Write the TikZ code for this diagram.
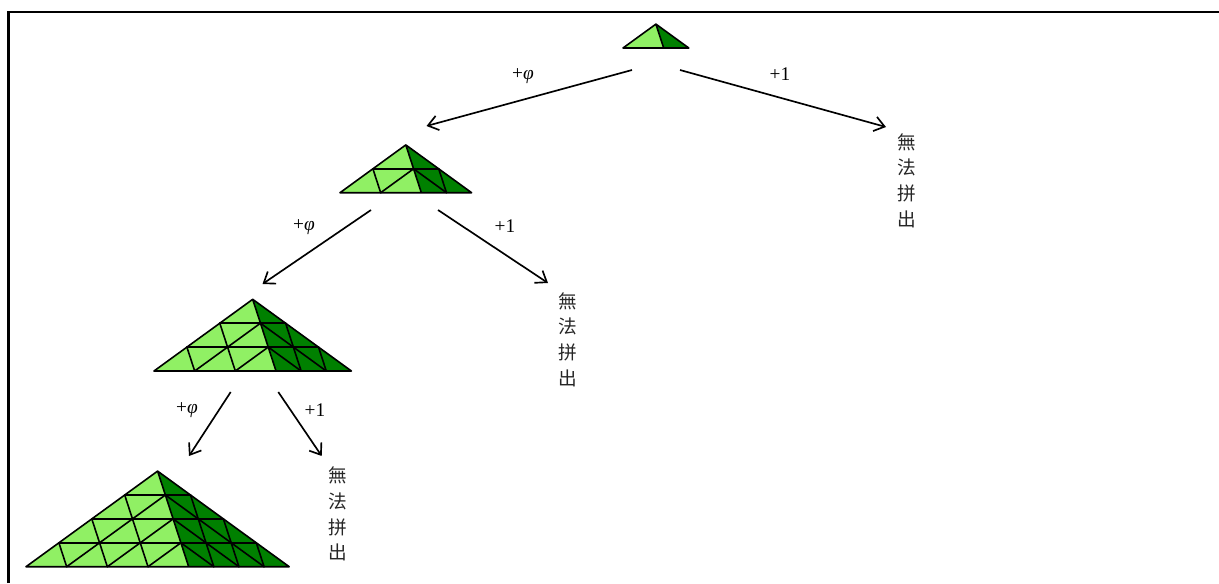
\documentclass[tikz,border=0pt]{standalone}
\usepackage{fontspec}
\setmainfont{Liberation Serif}
\newfontfamily\cjk{Noto Sans CJK TC}
\usetikzlibrary{arrows.meta}
\definecolor{lg}{RGB}{144,240,100}
\definecolor{dg}{RGB}{0,128,0}
\def\TW{65.8}\def\TH{23.9}\def\TD{40.67}
\tikzset{
  grid/.style={draw=black,line width=1.2pt,line join=round,line cap=round},
  arr/.style={draw=black,line width=1.25pt,-{Straight Barb[length=7.5pt,width=11pt]}},
  lbl/.style={font=\fontsize{14.5}{17}\selectfont,inner sep=0pt},
  vtext/.style={font=\cjk\fontsize{14}{19.3}\selectfont,align=center,inner sep=0pt,text=black!85},
  frame/.style={draw=black,line width=1.6pt}
}
\newcommand{\gtri}[4]{% name, n, bx, by
  \begin{scope}[shift={(#3,#4)}]
  \coordinate (#1B) at (0,0);
  \coordinate (#1A) at ({#2*\TW/2},{-#2*\TH});
  \coordinate (#1D) at ({#2*\TD},0);
  \coordinate (#1C) at ({#2*\TW},0);
  \fill[lg] (#1B)--(#1A)--(#1D)--cycle;
  \fill[dg] (#1A)--(#1D)--(#1C)--cycle;
  \ifnum#2>1
  \pgfmathtruncatemacro\nm{#2-1}
  \foreach \k in {1,...,\nm}{
    \draw[grid] ({\k*\TW/2},{-\k*\TH}) -- ({#2*\TW-\k*\TW/2},{-\k*\TH});
    \draw[grid] ({\k*\TD},0) -- ({#2*\TD+(#2-\k)*(\TW/2-\TD)},{-(#2-\k)*\TH});
    \draw[grid] ({\k*\TW/2},{-\k*\TH}) -- ({\k*\TD},0);
    \draw[grid] ({#2*\TD+\k*(\TW-\TD)},0) -- ({#2*\TW-(#2-\k)*\TW/2},{-(#2-\k)*\TH});
    \draw[grid] ({#2*\TD+\k*(\TW/2-\TD)},{-\k*\TH}) -- ({#2*\TD+\k*(\TW-\TD)},0);
  }
  \fi
  \draw[grid] (#1B)--(#1A)--(#1C)--cycle (#1A)--(#1D);
  \end{scope}
}
\begin{document}
\begin{tikzpicture}[x=0.75pt,y=-0.75pt]
\useasboundingbox (0,0) rectangle (1219,583);
\coordinate (f1) at (8.5,583);
\coordinate (f2) at (8.5,12);
\coordinate (f3) at (1219,12);
\draw[frame] (f1) -- (f2) -- (f3);

\gtri{T1}{1}{623}{48}
\gtri{T2}{2}{340}{192.7}
\gtri{T3}{3}{154}{371}
\gtri{T4}{4}{26}{566.7}

% level 1 arrows
\coordinate (a1s) at (632,70);  \coordinate (a1e) at (426.5,126);
\coordinate (b1s) at (680,70);  \coordinate (b1e) at (886,127);
\draw[arr] (a1s) -- (a1e);
\draw[arr] (b1s) -- (b1e);
\node[lbl] (p1) at (523,76) {+\textit{φ}};
\node[lbl] (q1) at (780,74) {+1};
\node[vtext] (t1) at (907,180.5) {無\\法\\拼\\出};

% level 2 arrows
\coordinate (a2s) at (371,210);  \coordinate (a2e) at (262.5,284);
\coordinate (b2s) at (438,210);  \coordinate (b2e) at (548,283);
\draw[arr] (a2s) -- (a2e);
\draw[arr] (b2s) -- (b2e);
\node[lbl] (p2) at (304,227) {+\textit{φ}};
\node[lbl] (q2) at (505,226) {+1};
\node[vtext] (t2) at (568,339.5) {無\\法\\拼\\出};

% level 3 arrows
\coordinate (a3s) at (230.7,392);  \coordinate (a3e) at (189,456);
\coordinate (b3s) at (278.3,392);  \coordinate (b3e) at (321.7,456);
\draw[arr] (a3s) -- (a3e);
\draw[arr] (b3s) -- (b3e);
\node[lbl] (p3) at (187,410) {+\textit{φ}};
\node[lbl] (q3) at (315,410) {+1};
\node[vtext] (t3) at (338,514) {無\\法\\拼\\出};
\end{tikzpicture}
\end{document}
